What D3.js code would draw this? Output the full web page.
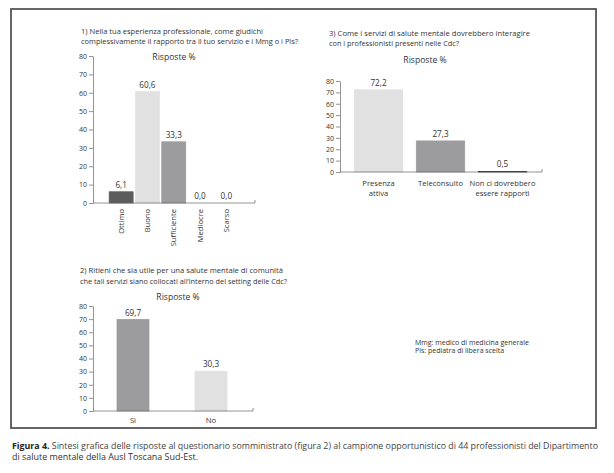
<!DOCTYPE html>
<html>
<head>
<meta charset="utf-8">
<script src="https://cdnjs.cloudflare.com/ajax/libs/d3/7.8.5/d3.min.js"></script>
<style>
  body { margin: 0; background: #fff; }
  svg text { font-family: "Open Sans", "Noto Sans", sans-serif; fill: #333; }
</style>
</head>
<body>
<div id="chart"></div>
<script>
// Data (percent of answers)

const q1Categories = ['Ottimo', 'Buono', 'Sufficiente', 'Mediocre', 'Scarso'];
const q1Values = [6.1, 60.6, 33.3, 0.0, 0.0];
const q1Labels = ['6,1', '60,6', '33,3', '0,0', '0,0'];

const q2Categories = ['Sì', 'No'];
const q2Values = [69.7, 30.3];
const q2Labels = ['69,7', '30,3'];

const q3Categories = [['Presenza', 'attiva'], ['Teleconsulto'], ['Non ci dovrebbero', 'essere rapporti']];
const q3Values = [72.2, 27.3, 0.5];
const q3Labels = ['72,2', '27,3', '0,5'];

const yTicks = [0, 10, 20, 30, 40, 50, 60, 70, 80];

const width = 614;
const height = 473;

const svg = d3.select('#chart')
  .append('svg')
  .attr('width', width)
  .attr('height', height)

// outer frame
svg.append('rect')
  .attr('x', 11).attr('y', 9)
  .attr('width', 585).attr('height', 419)
  .attr('fill', 'none')
  .attr('stroke', '#555')
  .attr('stroke-width', 1.8)

// fit a line of text to a measured width
function fitText(sel, w) {
  sel.attr('textLength', w).attr('lengthAdjust', 'spacingAndGlyphs')
}

function drawChart(cfg) {
  const g = svg.append('g')

  // title lines
  cfg.title.forEach((t, i) => {
    g.append('text')
      .attr('x', cfg.titleX)
      .attr('y', cfg.titleY + i * cfg.titleGap)
      .attr('font-size', 7.6)
      .text(t)
      .call(fitText, cfg.titleW[i])
  })

  g.append('text')
    .attr('x', cfg.subX)
    .attr('y', cfg.subY)
    .attr('text-anchor', 'middle')
    .attr('font-size', 8.6)
    .text('Risposte %')

  const y = d3.scaleLinear()
    .domain([0, 80])
    .range([cfg.y0, cfg.y80])

  const x = d3.scaleBand()
    .domain(d3.range(cfg.values.length))
    .range(cfg.xRange)
    .paddingInner(cfg.pad)
    .paddingOuter(cfg.padOuter)

  // bars
  g.selectAll('rect.bar')
    .data(cfg.values)
    .enter()
    .append('rect')
    .attr('class', 'bar')
    .attr('x', (d, i) => x(i))
    .attr('width', x.bandwidth())
    .attr('y', d => y(d))
    .attr('height', d => y(0) - y(d))
    .attr('fill', (d, i) => cfg.colors[i])
    .attr('stroke', (d, i) => cfg.colors[i])
    .attr('stroke-width', 0.8)

  // value labels
  g.selectAll('text.val')
    .data(cfg.values)
    .enter()
    .append('text')
    .attr('class', 'val')
    .attr('x', (d, i) => x(i) + x.bandwidth() / 2)
    .attr('y', d => y(d) - 4)
    .attr('text-anchor', 'middle')
    .attr('font-size', 8.2)
    .text((d, i) => cfg.labels[i])

  // y axis
  const yAxis = d3.axisLeft(y)
    .tickValues(yTicks)
    .tickSize(4)
    .tickSizeOuter(0)
    .tickPadding(2)

  const ya = g.append('g')
    .attr('transform', 'translate(' + cfg.axisX + ',0)')
    .call(yAxis)
  ya.selectAll('text').attr('font-size', 7).attr('font-family', '"Open Sans", sans-serif').attr('fill', '#333')
  ya.selectAll('line, path').attr('stroke', '#666').attr('stroke-width', 0.7)

  // x axis baseline with end tick
  const xa = g.append('g')
  xa.append('path')
    .attr('d', 'M' + cfg.axisX + ',' + y(0) + 'H' + cfg.axisEnd + 'V' + (y(0) - 3))
    .attr('fill', 'none')
    .attr('stroke', '#666')
    .attr('stroke-width', 0.7)

  // category labels
  if (cfg.rotate) {
    g.selectAll('text.cat')
      .data(cfg.categories)
      .enter()
      .append('text')
      .attr('class', 'cat')
      .attr('transform', (d, i) => 'translate(' + (x(i) + x.bandwidth() / 2 + 2.5) + ',' + (y(0) + 6) + ') rotate(-90)')
      .attr('text-anchor', 'end')
      .attr('font-size', 7.6)
      .text(d => d)
  } else {
    cfg.categories.forEach((c, i) => {
      const lines = Array.isArray(c) ? c : [c]
      lines.forEach((t, j) => {
        g.append('text')
          .attr('class', 'cat')
          .attr('x', x(i) + x.bandwidth() / 2)
          .attr('y', y(0) + cfg.catDy + j * 9.5)
          .attr('text-anchor', 'middle')
          .attr('font-size', 7.6)
          .text(t)
      })
    })
  }
}

// 1) rapporto con Mmg / Pls
drawChart({
  title: ['1) Nella tua esperienza professionale, come giudichi',
          'complessivamente il rapporto tra il tuo servizio e i Mmg o i Pls?'],
  titleX: 81, titleY: 34, titleGap: 9.5, titleW: [182, 217],
  subX: 174, subY: 60,
  values: q1Values, labels: q1Labels, categories: q1Categories,
  colors: ['#5c5c5c', '#e1e1e2', '#9c9c9e', '#e1e1e2', '#4a4a4a'],
  y0: 203, y80: 56,
  axisX: 93, axisEnd: 255,
  xRange: [108, 239.5], pad: 0.09, padOuter: 0.045,
  rotate: true
})

// 2) servizi nelle Cdc
drawChart({
  title: ['2) Ritieni che sia utile per una salute mentale di comunità',
          'che tali  servizi siano collocati all\u2019interno del setting delle Cdc?'],
  titleX: 80, titleY: 273, titleGap: 11, titleW: [203, 207],
  subX: 178, subY: 300,
  values: q2Values, labels: q2Labels, categories: q2Categories,
  colors: ['#9c9c9e', '#e1e1e2'],
  y0: 411, y80: 306,
  axisX: 93, axisEnd: 253,
  xRange: [94, 250], pad: 0.59, padOuter: 0.295,
  rotate: false, catDy: 12
})

// 3) interazione con i professionisti delle Cdc
drawChart({
  title: ['3) Come i servizi di salute mentale dovrebbero interagire',
          'con i professionisti presenti nelle Cdc?'],
  titleX: 329, titleY: 36, titleGap: 9.5, titleW: [201, 130],
  subX: 425, subY: 63,
  values: q3Values, labels: q3Labels, categories: q3Categories,
  colors: ['#e1e1e2', '#9c9c9e', '#333333'],
  y0: 172, y80: 81,
  axisX: 340, axisEnd: 542,
  xRange: [347.5, 533.5], pad: 0.22, padOuter: 0.11,
  rotate: false, catDy: 14
})

// abbreviations note
const notes = ['Mmg: medico di medicina generale', 'Pls: pediatra di libera scelta']
notes.forEach((t, i) => {
  svg.append('text')
    .attr('x', 415)
    .attr('y', 345 + i * 7.8)
    .attr('font-size', 7)
    .text(t)
})

// caption
const cap1 = svg.append('text')
  .attr('x', 12).attr('y', 449)
  .attr('font-size', 8.2)
  .attr('font-family', '"Noto Sans", sans-serif')
cap1.append('tspan').attr('font-weight', 'bold').attr('fill', '#222').text('Figura 4.')
cap1.append('tspan').attr('fill', '#444').text(' Sintesi grafica delle risposte al questionario somministrato (figura 2) al campione opportunistico di 44 professionisti del Dipartimento')
cap1.call(fitText, 586)

svg.append('text')
  .attr('x', 12).attr('y', 460)
  .attr('font-size', 8.2)
  .attr('font-family', '"Noto Sans", sans-serif')
  .attr('fill', '#444')
  .text('di salute mentale della Ausl Toscana Sud-Est.')
  .call(fitText, 186)
</script>
</body>
</html>
